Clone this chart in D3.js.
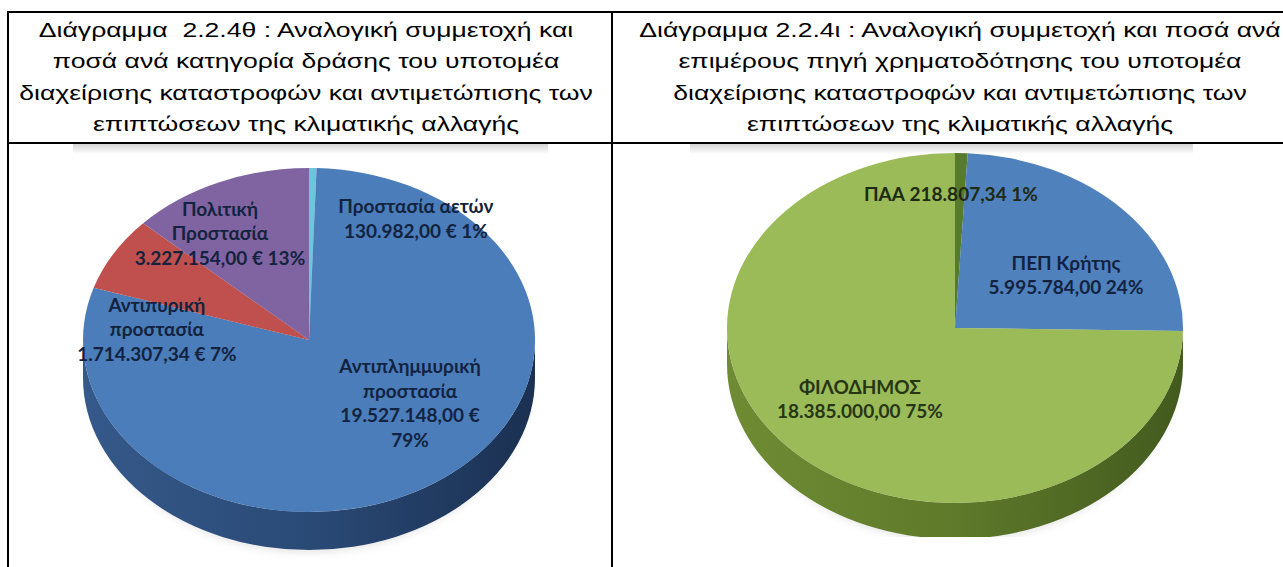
<!DOCTYPE html>
<html>
<head>
<meta charset="utf-8">
<script src="https://cdn.jsdelivr.net/npm/d3@7"></script>
<style>
  body { margin: 0; background: #fff; }
  svg { display: block; }
</style>
</head>
<body>
<svg id="chart" width="1283" height="567"></svg>
<script>
// Titles of the two table cells
const leftTitle = [
  'Διάγραμμα  2.2.4θ : Αναλογική συμμετοχή και',
  'ποσά ανά κατηγορία δράσης του υποτομέα',
  'διαχείρισης καταστροφών και αντιμετώπισης των',
  'επιπτώσεων της κλιματικής αλλαγής'
]
const rightTitle = [
  'Διάγραμμα 2.2.4ι : Αναλογική συμμετοχή και ποσά ανά',
  'επιμέρους πηγή χρηματοδότησης του υποτομέα',
  'διαχείρισης καταστροφών και αντιμετώπισης των',
  'επιπτώσεων της κλιματικής αλλαγής'
]

// Left pie: amount per action category (clockwise from 12 o'clock)
const leftCategories = ['Προστασία αετών', 'Αντιπλημμυρική προστασία', 'Αντιπυρική προστασία', 'Πολιτική Προστασία']
const leftAmounts = [130982.00, 19527148.00, 1714307.34, 3227154.00]

// Right pie: amount per funding source (clockwise from 12 o'clock)
const rightCategories = ['ΠΑΑ', 'ΠΕΠ Κρήτης', 'ΦΙΛΟΔΗΜΟΣ']
const rightAmounts = [218807.34, 5995784.00, 18385000.00]

const svg = d3.select('#chart')
const defs = svg.append('defs')

const greek = d3.formatLocale({ decimal: ',', thousands: '.', grouping: [3], currency: ['', ''] })
const money = greek.format(',.2f')
const pct = d3.format('.0%')

// Table grid
const rule = (x1, y1, x2, y2) => svg.append('line')
  .attr('x1', x1).attr('y1', y1).attr('x2', x2).attr('y2', y2)
  .attr('stroke', '#000').attr('stroke-width', 2)
rule(7, 12, 1283, 12)
rule(7, 143, 1283, 143)
rule(8, 12, 8, 567)
rule(612, 12, 612, 567)

// Cell titles (the source page is stretched horizontally)
function drawTitle(lines, cx) {
  const g = svg.append('g')
  lines.forEach((t, i) => {
    g.append('text')
      .attr('transform', `translate(${cx},${37 + i * 31.3}) scale(1.33,1)`)
      .attr('text-anchor', 'middle')
      .style('font', '20px "Liberation Sans", Arial, sans-serif')
      .style('white-space', 'pre')
      .attr('fill', '#000')
      .text(t)
  })
}
drawTitle(leftTitle, 306)
drawTitle(rightTitle, 960)

// faint top edge of the pasted pictures
function pictureEdge(id, x0, x1) {
  const gr = defs.append('linearGradient').attr('id', id).attr('x1', 0).attr('x2', 0).attr('y1', 0).attr('y2', 1)
  gr.append('stop').attr('offset', 0).attr('stop-color', '#d4d4d4')
  gr.append('stop').attr('offset', 1).attr('stop-color', '#fff')
  svg.append('rect').attr('x', x0).attr('y', 144).attr('width', x1 - x0).attr('height', 10)
    .attr('fill', `url(#${id})`)
}
pictureEdge('edgeL', 73, 548)
pictureEdge('edgeR', 690, 1193)

defs.append('filter').attr('id', 'soft').attr('x', '-20%').attr('y', '-20%').attr('width', '140%').attr('height', '140%')
  .append('feGaussianBlur').attr('stdDeviation', 4)

// 3D-looking pie: flat d3.arc pie squashed into an ellipse, plus a front wall
function drawPie(o) {
  const k = o.ry / o.rx
  const arcs = d3.pie().sort(null).value(d => d)(o.values)
  const total = d3.sum(o.values)

  const g = svg.append('g')
  if (o.clip) {
    defs.append('clipPath').attr('id', o.id + '-clip')
      .append('rect').attr('x', o.clip[0]).attr('y', o.clip[1]).attr('width', o.clip[2]).attr('height', o.clip[3])
    g.attr('clip-path', `url(#${o.id}-clip)`)
  }

  // soft shadow under the disc
  g.append('ellipse')
    .attr('cx', o.cx).attr('cy', o.cy + o.depth + 4)
    .attr('rx', o.rx - 6).attr('ry', o.ry - 2)
    .attr('fill', '#bfbfbf').attr('opacity', 0.45)
    .attr('filter', 'url(#soft)')

  const flat = g.append('g').attr('transform', `translate(${o.cx},${o.cy}) scale(1,${k})`)
  const D = o.depth / k

  arcs.forEach((a, i) => {
    const s = Math.max(a.startAngle, Math.PI / 2)
    const e = Math.min(a.endAngle, 3 * Math.PI / 2)
    if (s >= e) return
    const gr = defs.append('linearGradient').attr('id', `${o.id}-side${i}`)
      .attr('gradientUnits', 'userSpaceOnUse')
      .attr('x1', -o.rx).attr('x2', o.rx).attr('y1', 0).attr('y2', 0)
    o.sideColors[i].forEach((c, j, arr) => gr.append('stop').attr('offset', j / (arr.length - 1)).attr('stop-color', c))
    const p = d3.path()
    p.moveTo(o.rx * Math.sin(s), -o.rx * Math.cos(s))
    p.arc(0, 0, o.rx, s - Math.PI / 2, e - Math.PI / 2)
    p.lineTo(o.rx * Math.sin(e), -o.rx * Math.cos(e) + D)
    p.arc(0, D, o.rx, e - Math.PI / 2, s - Math.PI / 2, true)
    p.closePath()
    flat.append('path').attr('d', p.toString()).attr('fill', `url(#${o.id}-side${i})`)
  })

  const arc = d3.arc().innerRadius(0).outerRadius(o.rx)
  flat.selectAll('path.top')
    .data(arcs)
    .join('path')
      .attr('class', 'top')
      .attr('d', arc)
      .attr('fill', (d, i) => o.colors[i])

  // data labels
  arcs.forEach((a, i) => {
    const L = o.layout[i]
    const name = o.names[i]
    const amount = money(o.values[i]) + (o.euro ? ' €' : '')
    const share = pct(o.values[i] / total)
    let lines
    if (L.oneLine) lines = [`${name} ${amount} ${share}`]
    else {
      lines = L.splitName ? name.split(' ') : [name]
      lines = L.splitPct ? lines.concat([amount, share]) : lines.concat([`${amount} ${share}`])
    }
    const x = o.cx + L.dx * o.rx
    const y0 = o.cy + L.dy * o.ry - (lines.length - 1) * o.lineGap / 2
    const t = svg.append('text')
      .attr('text-anchor', 'middle')
      .style('font', '700 19px Lato, "Open Sans", sans-serif')
      .attr('fill', o.textColors[i])
    lines.forEach((ln, j) => {
      t.append('tspan').attr('x', x).attr('y', y0 + j * o.lineGap + 6).text(ln)
    })
  })
}

drawPie({
  id: 'left',
  names: leftCategories,
  values: leftAmounts,
  colors: ['#6cc4dd', '#4a7dba', '#c0504d', '#8064a2'],
  sideColors: [
    ['#3d8aa0', '#2b6a80'],
    ['#35598a', '#2a4a76', '#1b3052'],
    ['#8a3331', '#6e2826'],
    ['#5a4575', '#48365f']
  ],
  textColors: ['#13233f', '#13233f', '#13233f', '#13233f'],
  cx: 309, cy: 340, rx: 226, ry: 172, depth: 38,
  lineGap: 24.5,
  euro: true,
  layout: [
    { dx: 0.473, dy: -0.70, splitName: false, splitPct: false },
    { dx: 0.447, dy: 0.372, splitName: true, splitPct: true },
    { dx: -0.673, dy: -0.058, splitName: true, splitPct: false },
    { dx: -0.394, dy: -0.616, splitName: true, splitPct: false }
  ]
})

drawPie({
  id: 'right',
  names: rightCategories,
  values: rightAmounts,
  colors: ['#587a2c', '#4f81bd', '#9bbb59'],
  sideColors: [
    ['#3f561c', '#34481a'],
    ['#35598a', '#2a4a76'],
    ['#6f8c34', '#5e7a2a', '#435a1e']
  ],
  textColors: ['#1e2a12', '#13233f', '#263614'],
  cx: 955, cy: 328, rx: 228, ry: 175, depth: 36,
  lineGap: 24,
  euro: false,
  clip: [612, 143, 671, 394],
  layout: [
    { dx: -0.018, dy: -0.76, oneLine: true },
    { dx: 0.487, dy: -0.297 },
    { dx: -0.417, dy: 0.411 }
  ]
})
</script>
</body>
</html>
